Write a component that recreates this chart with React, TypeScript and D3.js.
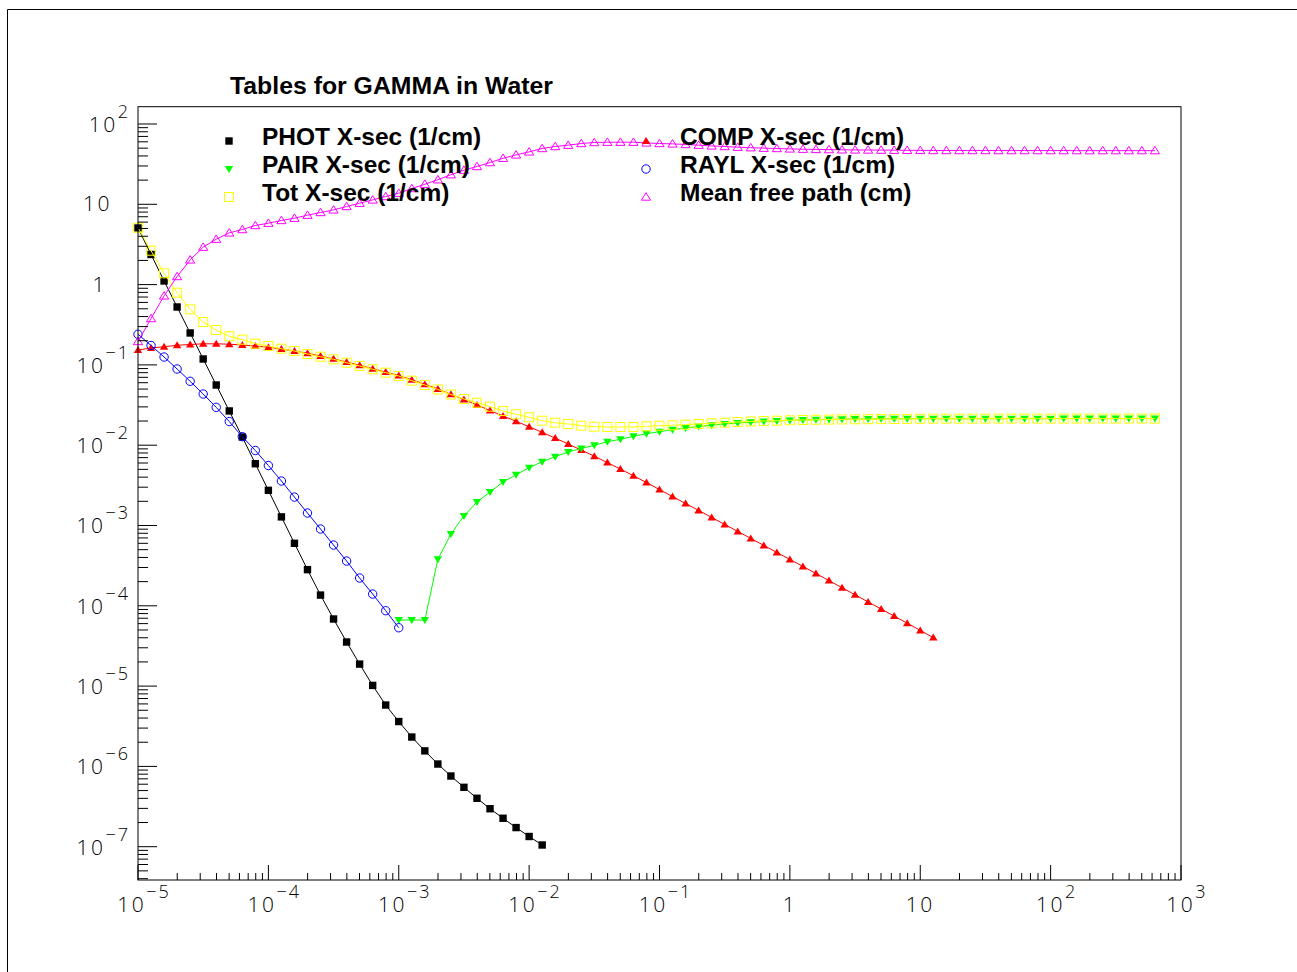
import React from "react";
import * as d3 from "d3";

// Photon energy grid (GeV), 10 points per decade
const energies = [
  1.0e-5, 1.259e-5, 1.585e-5, 1.995e-5, 2.512e-5, 3.162e-5, 3.981e-5, 5.012e-5, 6.31e-5, 7.943e-5,
  1.0e-4, 1.259e-4, 1.585e-4, 1.995e-4, 2.512e-4, 3.162e-4, 3.981e-4, 5.012e-4, 6.31e-4, 7.943e-4,
  1.0e-3, 1.259e-3, 1.585e-3, 1.995e-3, 2.512e-3, 3.162e-3, 3.981e-3, 5.012e-3, 6.31e-3, 7.943e-3,
  1.0e-2, 1.259e-2, 1.585e-2, 1.995e-2, 2.512e-2, 3.162e-2, 3.981e-2, 5.012e-2, 6.31e-2, 7.943e-2,
  1.0e-1, 1.259e-1, 1.585e-1, 1.995e-1, 2.512e-1, 3.162e-1, 3.981e-1, 5.012e-1, 6.31e-1, 7.943e-1,
  1.0, 1.259, 1.585, 1.995, 2.512, 3.162, 3.981, 5.012, 6.31, 7.943,
  10.0, 12.59, 15.85, 19.95, 25.12, 31.62, 39.81, 50.12, 63.1, 79.43,
  100.0, 125.9, 158.5, 199.5, 251.2, 316.2, 398.1, 501.2, 631.0,
];

const photXsec = [
  5.07, 2.37, 1.11, 0.526, 0.25, 0.1185, 0.0562, 0.0267, 0.01265, 5.88e-3,
  2.74e-3, 1.28e-3, 6.0e-4, 2.82e-4, 1.36e-4, 6.85e-5, 3.54e-5, 1.88e-5, 1.02e-5, 5.81e-6,
  3.62e-6, 2.32e-6, 1.56e-6, 1.07e-6, 7.59e-7, 5.49e-7, 4.01e-7, 2.97e-7, 2.26e-7, 1.73e-7,
  1.34e-7, 1.05e-7,
];
const photStart = 0;

const compXsec = [
  0.1533, 0.1623, 0.1685, 0.1754, 0.1795, 0.1831, 0.1831, 0.181, 0.1769, 0.1719,
  0.1656, 0.1578, 0.149, 0.1395, 0.1291, 0.1191, 0.1087, 0.0989, 0.0897, 0.0816,
  0.0736, 0.0652, 0.0575, 0.0501, 0.043, 0.037, 0.03167, 0.02704, 0.0231, 0.01984,
  0.01698, 0.01445, 0.01226, 0.01035, 8.7e-3, 7.29e-3, 6.07e-3, 5.04e-3, 4.164e-3, 3.426e-3,
  2.807e-3, 2.291e-3, 1.879e-3, 1.542e-3, 1.261e-3, 1.032e-3, 8.44e-4, 6.91e-4, 5.65e-4, 4.62e-4,
  3.78e-4, 3.095e-4, 2.525e-4, 2.06e-4, 1.68e-4, 1.371e-4, 1.118e-4, 9.12e-5, 7.44e-5, 6.07e-5,
  4.94e-5, 4.02e-5,
];
const compStart = 0;

const pairXsec = [
  6.65e-5, 6.65e-5, 6.65e-5, 3.79e-4, 7.83e-4, 1.313e-3, 1.962e-3, 2.614e-3, 3.48e-3, 4.29e-3,
  5.25e-3, 6.23e-3, 7.19e-3, 8.23e-3, 9.1e-3, 9.97e-3, 0.01105, 0.01184, 0.0129, 0.0139,
  0.01473, 0.0156, 0.01638, 0.0171, 0.01774, 0.01837, 0.0189, 0.01934, 0.01973, 0.02007,
  0.02036, 0.0206, 0.02078, 0.02096, 0.02108, 0.0212, 0.02126, 0.02132, 0.02138, 0.02138,
  0.02138, 0.02138, 0.02138, 0.02138, 0.02142, 0.02142, 0.02142, 0.02142, 0.02142, 0.02142,
  0.02142, 0.02146, 0.02146, 0.02146, 0.02146, 0.02146, 0.02146, 0.02146, 0.02146,
];
const pairStart = 20;

const raylXsec = [
  0.2405, 0.1745, 0.1254, 0.0889, 0.0625, 0.0434, 0.0296, 0.0197, 0.01276, 0.00859,
  0.00558, 0.00358, 0.00226, 0.00143, 9.04e-4, 5.71e-4, 3.61e-4, 2.22e-4, 1.4e-4, 8.69e-5,
  5.33e-5,
];
const raylStart = 0;

const totXsec = [
  5.11, 2.644, 1.383, 0.793, 0.4925, 0.342, 0.272, 0.227, 0.206, 0.1837,
  0.1719, 0.159, 0.149, 0.1367, 0.1265, 0.1174, 0.1065, 0.0969, 0.0882, 0.08,
  0.0728, 0.0636, 0.0562, 0.0494, 0.0428, 0.0376, 0.0338, 0.0302, 0.0267, 0.02426,
  0.02225, 0.02019, 0.01906, 0.01837, 0.01749, 0.017, 0.01685, 0.01685, 0.01685, 0.01719,
  0.01749, 0.01769, 0.018, 0.01837, 0.01874, 0.01906, 0.01945, 0.01973, 0.02001, 0.02019,
  0.02042, 0.0206, 0.02072, 0.02084, 0.02096, 0.02102, 0.02108, 0.02114, 0.0212, 0.02126,
  0.02132, 0.02138, 0.02138, 0.02138, 0.02138, 0.02138, 0.02142, 0.02142, 0.02142, 0.02142,
  0.02142, 0.02142, 0.02146, 0.02146, 0.02146, 0.02146, 0.02146, 0.02146, 0.02146,
];
const totStart = 0;

const meanFreePath = [
  0.1957, 0.378, 0.723, 1.261, 2.03, 2.924, 3.676, 4.405, 4.854, 5.444,
  5.817, 6.289, 6.711, 7.315, 7.905, 8.518, 9.39, 10.32, 11.34, 12.5,
  13.74, 15.72, 17.79, 20.24, 23.36, 26.6, 29.59, 33.11, 37.45, 41.22,
  44.94, 49.53, 52.47, 54.44, 57.18, 58.82, 59.35, 59.35, 59.35, 58.17,
  57.18, 56.53, 55.56, 54.44, 53.36, 52.47, 51.41, 50.68, 49.98, 49.53,
  48.97, 48.54, 48.26, 47.98, 47.71, 47.57, 47.44, 47.3, 47.17, 47.04,
  46.9, 46.77, 46.77, 46.77, 46.77, 46.77, 46.69, 46.69, 46.69, 46.69,
  46.69, 46.69, 46.6, 46.6, 46.6, 46.6, 46.6, 46.6, 46.6,
];
const mfpStart = 0;

const seriesNames = [
  "PHOT X-sec (1/cm)",
  "COMP X-sec (1/cm)",
  "PAIR X-sec (1/cm)",
  "RAYL X-sec (1/cm)",
  "Tot X-sec (1/cm)",
  "Mean free path (cm)",
];

const titleText = "Tables for GAMMA in Water";
const xLabelExponents = [-5, -4, -3, -2, -1, 0, 1, 2, 3];
const yLabelExponents = [-7, -6, -5, -4, -3, -2, -1, 0, 1, 2];

type MarkerKind = "fsquare" | "fup" | "fdown" | "ocircle" | "osquare" | "oup";

const series: { name: string; values: number[]; start: number; color: string; marker: MarkerKind }[] = [
  { name: seriesNames[0], values: photXsec, start: photStart, color: "#000000", marker: "fsquare" },
  { name: seriesNames[1], values: compXsec, start: compStart, color: "#ff0000", marker: "fup" },
  { name: seriesNames[2], values: pairXsec, start: pairStart, color: "#00ff00", marker: "fdown" },
  { name: seriesNames[3], values: raylXsec, start: raylStart, color: "#0000ff", marker: "ocircle" },
  { name: seriesNames[4], values: totXsec, start: totStart, color: "#ffff00", marker: "osquare" },
  { name: seriesNames[5], values: meanFreePath, start: mfpStart, color: "#ff00ff", marker: "oup" },
];

const W = 1297;
const H = 972;
const PL = 138;
const PR = 1181;
const PT = 106.7;
const PB = 880;

const xScale = d3.scaleLog().domain([1e-5, 1e3]).range([PL, PR]);
const yScale = d3
  .scaleLog()
  .domain([Math.pow(10, -7.4147), Math.pow(10, 2.2154)])
  .range([PB, PT]);

function Marker({ kind, color, cx, cy }: { kind: MarkerKind; color: string; cx: number; cy: number }) {
  switch (kind) {
    case "fsquare":
      return <rect x={cx - 3.7} y={cy - 3.7} width={7.4} height={7.4} fill={color} />;
    case "osquare":
      return <rect x={cx - 4.5} y={cy - 4.5} width={9} height={9} fill="none" stroke={color} strokeWidth={1} />;
    case "ocircle":
      return <circle cx={cx} cy={cy} r={4.2} fill="none" stroke={color} strokeWidth={1} />;
    case "fup":
      return <path d={`M${cx},${cy - 4}L${cx + 4.2},${cy + 3}L${cx - 4.2},${cy + 3}Z`} fill={color} />;
    case "fdown":
      return <path d={`M${cx},${cy + 4}L${cx + 4.2},${cy - 3}L${cx - 4.2},${cy - 3}Z`} fill={color} />;
    case "oup":
      return (
        <path
          d={`M${cx},${cy - 4.3}L${cx + 4.6},${cy + 3.2}L${cx - 4.6},${cy + 3.2}Z`}
          fill="none"
          stroke={color}
          strokeWidth={1}
        />
      );
  }
  return null;
}

const labelFont = "'Open Sans', 'DejaVu Sans', sans-serif";
const boldFont = "'Liberation Sans', Arial, Helvetica, sans-serif";
const baseSize = 21;
const expSize = 18;

function expText(e: number) {
  return e < 0 ? "\u2212" + Math.abs(e) : String(e);
}

export default function App() {
  const line = d3
    .line<[number, number]>()
    .x((d) => xScale(d[0]))
    .y((d) => yScale(d[1]));

  // Tick positions
  const xMajor: number[] = [];
  const xMinor: number[] = [];
  for (let e = -5; e <= 3; e++) {
    xMajor.push(Math.pow(10, e));
    if (e < 3) for (let m = 2; m <= 9; m++) xMinor.push(m * Math.pow(10, e));
  }
  const [yLo, yHi] = yScale.domain();
  const yMajor: number[] = [];
  const yMinor: number[] = [];
  for (let e = -8; e <= 2; e++) {
    const v = Math.pow(10, e);
    if (v >= yLo && v <= yHi) yMajor.push(v);
    for (let m = 2; m <= 9; m++) {
      const mv = m * v;
      if (mv >= yLo && mv <= yHi) yMinor.push(mv);
    }
  }

  const legendRows = [
    [series[0], series[1]],
    [series[2], series[3]],
    [series[4], series[5]],
  ];
  const legendColX = [229, 646];
  const legendTextX = [262, 680];
  const legendRowY = [136, 164, 192];

  return (
    <svg
      width={W}
      height={H}
      style={{ position: "absolute", left: 0, top: 0, background: "#fff" }}
      xmlns="http://www.w3.org/2000/svg"
    >
      <rect x={0} y={0} width={W} height={H} fill="#fff" />
      {/* outer canvas frame */}
      <line x1={7.5} y1={9.5} x2={W} y2={9.5} stroke="#000" strokeWidth={1} />
      <line x1={7.5} y1={9.5} x2={7.5} y2={H} stroke="#000" strokeWidth={1} />

      {/* title */}
      <text x={230} y={94} fontFamily={boldFont} fontWeight="bold" fontSize={24.5} textLength={323} lengthAdjust="spacingAndGlyphs">
        {titleText}
      </text>

      {/* series */}
      {series.map((s) => {
        const pts: [number, number][] = s.values.map((v, i) => [energies[s.start + i], v]);
        return (
          <g key={s.name}>
            <path d={line(pts) || ""} fill="none" stroke={s.color} strokeWidth={1} />
            {pts.map((p, i) => (
              <Marker key={i} kind={s.marker} color={s.color} cx={xScale(p[0])} cy={yScale(p[1])} />
            ))}
          </g>
        );
      })}

      {/* frame */}
      <rect x={PL} y={PT} width={PR - PL} height={PB - PT} fill="none" stroke="#000" strokeWidth={1} />

      {/* x ticks */}
      {xMajor.map((v, i) => (
        <line key={"xM" + i} x1={xScale(v)} x2={xScale(v)} y1={PB} y2={PB - 15} stroke="#000" strokeWidth={1} />
      ))}
      {xMinor.map((v, i) => (
        <line key={"xm" + i} x1={xScale(v)} x2={xScale(v)} y1={PB} y2={PB - 7} stroke="#000" strokeWidth={1} />
      ))}
      {/* y ticks */}
      {yMajor.map((v, i) => (
        <line key={"yM" + i} x1={PL} x2={PL + 19} y1={yScale(v)} y2={yScale(v)} stroke="#000" strokeWidth={1} />
      ))}
      {yMinor.map((v, i) => (
        <line key={"ym" + i} x1={PL} x2={PL + 10} y1={yScale(v)} y2={yScale(v)} stroke="#000" strokeWidth={1} />
      ))}

      {/* x labels */}
      {xLabelExponents.map((e) => {
        const tx = xScale(Math.pow(10, e));
        if (e === 0 || e === 1) {
          return (
            <text key={"xl" + e} x={tx} y={912} textAnchor="middle" fontFamily={labelFont} fontWeight={300} fontSize={baseSize} letterSpacing={2.5}>
              {e === 0 ? "1" : "10"}
            </text>
          );
        }
        return (
          <text key={"xl" + e} x={tx + 6} y={912} textAnchor="middle" fontFamily={labelFont} fontWeight={300} fontSize={baseSize} letterSpacing={2.5}>
            <tspan>10</tspan>
            <tspan dx={0} dy={-14} fontSize={expSize} letterSpacing={2}>
              {expText(e)}
            </tspan>
          </text>
        );
      })}

      {/* y labels */}
      {yLabelExponents.map((e) => {
        const ty = yScale(Math.pow(10, e));
        if (e === 0 || e === 1) {
          return (
            <text
              key={"yl" + e}
              x={e === 0 ? 107 : 112}
              y={ty + 7}
              textAnchor="end"
              fontFamily={labelFont}
              fontWeight={300}
              fontSize={baseSize}
              letterSpacing={2.5}
            >
              {e === 0 ? "1" : "10"}
            </text>
          );
        }
        return (
          <text key={"yl" + e} x={130} y={ty + 8} textAnchor="end" fontFamily={labelFont} fontWeight={300} fontSize={baseSize} letterSpacing={2.5}>
            <tspan>10</tspan>
            <tspan dx={0} dy={-14} fontSize={expSize} letterSpacing={2}>
              {expText(e)}
            </tspan>
          </text>
        );
      })}

      {/* legend */}
      {legendRows.map((row, r) =>
        row.map((s, c) => (
          <g key={"lg" + r + "-" + c}>
            <Marker kind={s.marker} color={s.color} cx={legendColX[c]} cy={legendRowY[r] + 5} />
            <text
              x={legendTextX[c]}
              y={legendRowY[r] + 8.5}
              fontFamily={boldFont}
              fontWeight="bold"
              fontSize={24.5}
            >
              {s.name}
            </text>
          </g>
        ))
      )}
    </svg>
  );
}
